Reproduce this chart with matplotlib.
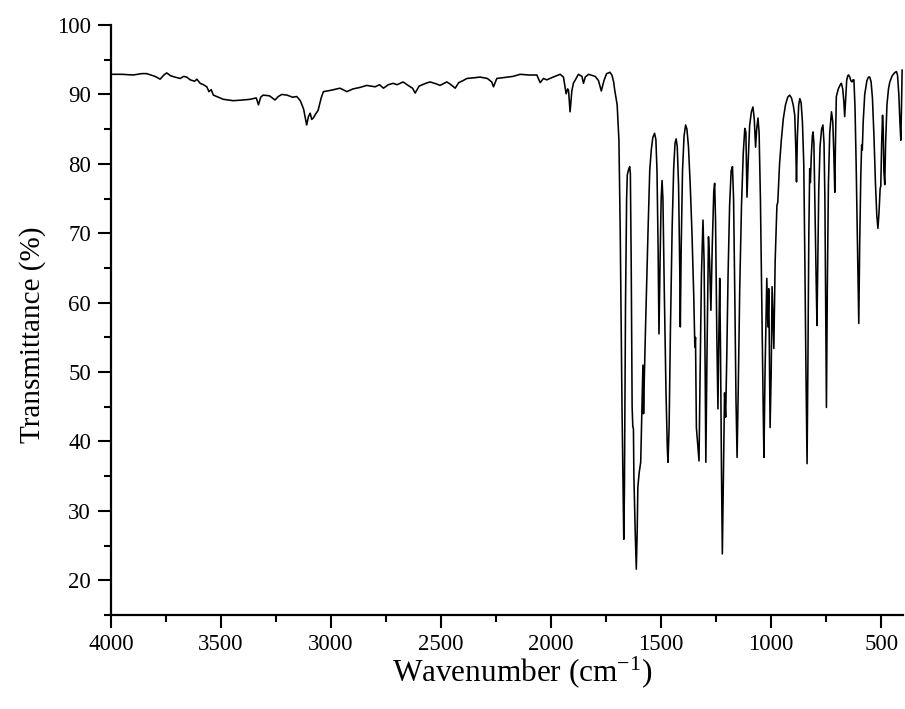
import numpy as np
import matplotlib
matplotlib.use('Agg')
import matplotlib.pyplot as plt
from matplotlib.ticker import MultipleLocator

# IR spectrum (wavenumber in cm-1, transmittance in %)
# flat region 4000 - 1700
wn_high = [4000, 3950, 3900, 3860, 3838, 3800, 3777, 3760, 3747, 3730,
           3710, 3686, 3670, 3656, 3640, 3620, 3610, 3595, 3580, 3565,
           3555, 3545, 3535, 3520, 3490, 3445, 3400, 3368, 3340, 3330,
           3320, 3309, 3280, 3255, 3240, 3224, 3200, 3175, 3156, 3140,
           3125, 3111, 3103, 3095, 3088, 3081, 3070, 3059, 3045, 3035,
           3000, 2960, 2940, 2929, 2900, 2870, 2838, 2800, 2780, 2762,
           2740, 2718, 2700, 2673, 2650, 2630, 2618, 2600, 2570, 2550,
           2520, 2505, 2474, 2455, 2436, 2420, 2400, 2383, 2350, 2323,
           2290, 2270, 2262, 2247, 2200, 2173, 2141, 2100, 2065, 2050,
           2035, 2020, 1991, 1959, 1944, 1932, 1925, 1921, 1914, 1906,
           1899, 1876, 1860, 1853, 1845, 1830, 1800, 1785, 1772, 1760,
           1748, 1739, 1733, 1724, 1716, 1711, 1705]
t_high = [92.9, 92.9, 92.8, 93.0, 93.0, 92.6, 92.2, 92.8, 93.1, 92.7,
          92.5, 92.3, 92.6, 92.5, 92.1, 91.9, 92.2, 91.6, 91.4, 91.1,
          90.4, 90.7, 89.9, 89.7, 89.3, 89.1, 89.2, 89.3, 89.5, 88.5,
          89.6, 89.9, 89.8, 89.2, 89.7, 90.0, 89.9, 89.6, 89.7, 89.1,
          87.9, 85.6, 86.8, 87.3, 86.4, 86.6, 87.2, 87.7, 89.5, 90.4,
          90.6, 90.9, 90.6, 90.4, 90.8, 91.0, 91.3, 91.1, 91.4, 90.9,
          91.4, 91.6, 91.4, 91.8, 91.3, 90.9, 90.2, 91.2, 91.6, 91.8,
          91.5, 91.3, 91.8, 91.4, 90.9, 91.7, 92.0, 92.3, 92.4, 92.5,
          92.3, 91.8, 91.1, 92.3, 92.5, 92.6, 92.9, 92.8, 92.8, 91.7,
          92.3, 92.1, 92.5, 92.9, 92.5, 90.1, 90.8, 90.6, 87.5, 90.5,
          91.6, 92.9, 92.6, 91.6, 92.5, 92.9, 92.6, 92.0, 90.5, 92.0,
          93.0, 93.1, 93.2, 92.8, 91.8, 90.6, 89.5]

# fingerprint region 1700 - 400
wn_low = [1700, 1692, 1686, 1678, 1672, 1670, 1667, 1662, 1657, 1654,
          1648, 1643, 1640, 1636, 1632, 1629, 1626, 1624, 1618, 1613,
          1609, 1606, 1600, 1593, 1587, 1583, 1580, 1576, 1571, 1560,
          1552, 1545, 1538, 1530, 1524, 1519, 1514, 1510, 1505, 1500,
          1496, 1492, 1486, 1478, 1472, 1469, 1464, 1458, 1450, 1443,
          1437, 1432, 1427, 1421, 1416, 1413, 1409, 1403, 1396, 1389,
          1383, 1376, 1368, 1360, 1352, 1347, 1344, 1340, 1334, 1328,
          1323, 1317, 1310, 1305, 1300, 1297, 1292, 1285, 1280, 1274,
          1268, 1261, 1257, 1253, 1247, 1242, 1238, 1234, 1230, 1226,
          1222, 1218, 1212, 1207, 1202, 1196, 1189, 1182, 1176, 1171,
          1165, 1160, 1155, 1150, 1143, 1135, 1127, 1120, 1115, 1110,
          1105, 1098, 1090, 1083, 1077, 1071, 1066, 1060, 1055, 1049,
          1042, 1036, 1033, 1028, 1020, 1015, 1011, 1005, 1000, 996,
          992, 988, 982, 974, 970, 962, 954, 945, 935, 925,
          916, 908, 900, 893, 888, 885, 881, 875, 870, 864,
          858, 852, 847, 842, 837, 833, 829, 825, 822, 818,
          813, 810, 806, 802, 798, 795, 792, 789, 784, 778,
          771, 765, 760, 756, 752, 749, 745, 740, 734, 726,
          720, 715, 711, 708, 704, 695, 686, 681, 675, 670,
          666, 662, 657, 652, 648, 643, 638, 633, 628, 624,
          619, 614, 609, 605, 602, 598, 593, 589, 586, 582,
          575, 565, 558, 552, 546, 540, 533, 526, 520, 515,
          510, 505, 502, 498, 494, 491, 488, 484, 480, 474,
          467, 461, 450, 440, 431, 426, 420, 415, 411, 408,
          406, 405]
t_low = [88.5, 83.4, 70.0, 45.0, 30.0, 25.9, 33.0, 60.0, 75.0, 78.4,
         79.2, 79.6, 78.6, 65.0, 45.0, 42.2, 41.8, 35.0, 27.0, 21.6,
         27.0, 33.4, 35.5, 37.0, 45.0, 51.0, 44.0, 50.0, 56.5, 70.0,
         79.0, 82.0, 83.8, 84.4, 83.5, 79.0, 68.0, 55.5, 66.0, 75.0,
         77.6, 75.0, 62.0, 47.0, 39.0, 37.0, 42.0, 56.0, 71.0, 79.5,
         83.0, 83.6, 82.5, 77.0, 66.0, 56.5, 68.0, 79.0, 84.0, 85.6,
         85.0, 82.5, 77.0, 70.0, 61.0, 53.6, 55.0, 42.0, 39.5, 37.2,
         50.0, 64.0, 71.9, 66.0, 50.0, 37.0, 52.0, 69.5, 66.0, 58.9,
         68.0, 76.0, 77.2, 72.0, 55.0, 44.7, 55.0, 63.5, 52.0, 36.0,
         23.8, 33.0, 47.0, 43.5, 52.0, 64.0, 74.0, 79.0, 79.6, 75.0,
         60.0, 46.0, 37.7, 47.0, 62.0, 74.0, 81.5, 85.1, 84.5, 75.2,
         80.0, 85.5, 87.5, 88.2, 86.5, 82.4, 85.0, 86.6, 84.5, 75.0,
         58.0, 44.0, 37.7, 50.0, 63.5, 56.5, 62.0, 42.0, 50.0, 62.3,
         58.0, 53.4, 66.0, 74.0, 74.5, 80.0, 83.4, 86.5, 88.5, 89.6,
         89.9, 89.5, 88.5, 87.0, 82.0, 77.4, 84.0, 88.5, 89.4, 88.8,
         86.0, 80.0, 66.0, 50.0, 36.8, 52.0, 70.0, 79.3, 77.3, 81.0,
         84.0, 84.6, 83.0, 75.0, 66.8, 62.0, 56.7, 64.0, 76.0, 82.5,
         85.0, 85.6, 83.0, 75.0, 58.0, 44.9, 62.0, 77.0, 84.5, 87.5,
         86.0, 81.0, 75.9, 83.0, 89.7, 90.8, 91.4, 91.6, 90.8, 89.0,
         86.8, 89.0, 92.0, 92.7, 92.8, 92.5, 92.0, 91.8, 92.1, 92.1,
         88.0, 80.0, 70.0, 62.0, 57.0, 68.0, 78.0, 82.7, 82.0, 86.0,
         90.0, 92.0, 92.5, 92.5, 91.8, 89.5, 84.0, 77.0, 72.5, 70.7,
         73.0, 76.4, 76.8, 83.0, 87.0, 85.0, 79.0, 77.0, 83.0, 88.5,
         90.8, 91.8, 92.7, 93.1, 93.3, 92.8, 90.0, 86.0, 83.4, 88.0,
         92.0, 93.5]

wavenumber = np.array(wn_high + wn_low)
transmittance = np.array(t_high + t_low)

plt.rcParams['font.family'] = 'Liberation Serif'
plt.rcParams['mathtext.fontset'] = 'custom'
plt.rcParams['mathtext.rm'] = 'Liberation Serif'
plt.rcParams['mathtext.it'] = 'Liberation Serif:italic'
plt.rcParams['mathtext.default'] = 'regular'

fig = plt.figure(figsize=(9.05, 7.09), dpi=100)
ax = fig.add_axes([0.1227, 0.1326, 0.8751, 0.8321])
ax.plot(wavenumber, transmittance, color='black', lw=1.15)

ax.set_xlim(4000, 401)
ax.set_ylim(15, 100)
ax.spines['top'].set_visible(False)
ax.spines['right'].set_visible(False)
ax.spines['left'].set_linewidth(1.6)
ax.spines['bottom'].set_linewidth(1.6)

ax.xaxis.set_major_locator(MultipleLocator(500))
ax.xaxis.set_minor_locator(MultipleLocator(250))
ax.yaxis.set_major_locator(MultipleLocator(10))
ax.yaxis.set_minor_locator(MultipleLocator(5))
ax.tick_params(which='major', direction='out', length=9.5, width=1.5, labelsize=16.5)
ax.tick_params(which='minor', direction='out', length=5, width=1.5)
ax.tick_params(axis='y', pad=5)
ax.tick_params(axis='x', pad=4)

ax.set_xlabel('Wavenumber (cm$^{-1}$)', fontsize=22.5)
ax.set_ylabel('Transmittance (%)', fontsize=21)
ax.xaxis.set_label_coords(0.519, -0.066)
ax.yaxis.set_label_coords(-0.082, 0.475)

plt.savefig('out.png', dpi=100)
